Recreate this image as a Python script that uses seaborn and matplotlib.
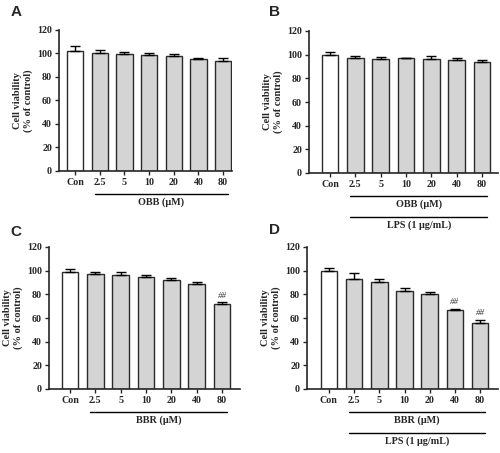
import numpy as np
import pandas as pd
import matplotlib
matplotlib.use("Agg")
import matplotlib.pyplot as plt
import matplotlib.transforms as mtransforms
import seaborn as sns

# данные
groups = ["Con", "2.5", "5", "10", "20", "40", "80"]

a_mean = [102, 100, 99.5, 99, 97.5, 95, 94]
a_sd = [4, 3, 1.5, 1, 2, 1.5, 2]

b_mean = [100, 97, 96.5, 97, 96, 95.5, 93.5]
b_sd = [2.5, 2, 1.5, 0.6, 2.5, 1.5, 2]

c_mean = [99, 97.5, 96.5, 95, 92, 88.5, 71.5]
c_sd = [2, 1.5, 2, 1.5, 1.5, 2, 2]
c_sig = ["", "", "", "", "", "", "##"]

d_mean = [100, 93, 90.5, 83, 80.5, 66.5, 55.5]
d_sd = [2, 5, 2.5, 2, 1.5, 1.5, 3]
d_sig = ["", "", "", "", "", "##", "##"]

sns.set_theme(style="ticks")
plt.rcParams["font.family"] = ["Liberation Serif", "DejaVu Serif"]
plt.rcParams["font.weight"] = "bold"

fig = plt.figure(figsize=(5.0, 4.53), dpi=100)

W, H = 500.0, 453.0


def make_ax(left, right, top, bottom):
    return fig.add_axes([left / W, 1 - bottom / H, (right - left) / W, (bottom - top) / H])


def panel(ax, mean, sd, sig, xlim, drug, lps):
    df = pd.DataFrame({"group": groups, "value": mean})
    colors = ["white"] + ["#d4d4d4"] * 6
    sns.barplot(data=df, x="group", y="value", hue="group", palette=colors,
                order=groups, legend=False, width=0.66, edgecolor="#2b2b2b",
                linewidth=1.0, ax=ax, errorbar=None)
    ax.errorbar(np.arange(len(groups)), mean, yerr=[np.zeros(len(sd)), sd],
                fmt="none", ecolor="black", elinewidth=1.0, capsize=3.5, capthick=1.0)
    for i, s in enumerate(sig):
        if s:
            ax.text(i, mean[i] + sd[i] + 2, s, ha="center", va="bottom",
                    fontsize=6.5, style="italic", fontweight="normal", color="#333333")
    ax.set_ylim(0, 120)
    ax.set_yticks(range(0, 121, 20))
    ax.set_xlim(*xlim)
    ax.set_xlabel("")
    ax.set_ylabel("Cell viability\n(% of control)", fontsize=7.5, fontweight="bold", labelpad=3)
    ax.tick_params(axis="both", labelsize=7.2, width=1.0, length=3, pad=2)
    for lab in ax.get_xticklabels() + ax.get_yticklabels():
        lab.set_fontweight("bold")
    sns.despine(ax=ax)
    for sp in ["left", "bottom"]:
        ax.spines[sp].set_linewidth(1.2)

    trans = mtransforms.blended_transform_factory(ax.transData, ax.transAxes)
    px = 1.0 / ax.get_position().height / H  # один пиксель в долях осей
    y1 = -23 * px
    ax.plot([0.8, 6.2], [y1, y1], color="black", lw=1.0, transform=trans, clip_on=False)
    ax.text(3.5, y1 - 3 * px, drug, ha="center", va="top", fontsize=7.3,
            fontweight="bold", transform=trans)
    if lps:
        y2 = y1 - 21 * px
        ax.plot([0.8, 6.2], [y2, y2], color="black", lw=1.0, transform=trans, clip_on=False)
        ax.text(3.5, y2 - 3 * px, "LPS (1 μg/mL)", ha="center", va="top", fontsize=7.3,
                fontweight="bold", transform=trans)


ax_a = make_ax(59, 232, 30, 171)
panel(ax_a, a_mean, a_sd, [""] * 7, (-0.65, 6.36), "OBB (μM)", False)

ax_b = make_ax(309, 498, 31, 173)
panel(ax_b, b_mean, b_sd, [""] * 7, (-0.83, 6.63), "OBB (μM)", True)

ax_c = make_ax(49, 240, 247, 389)
panel(ax_c, c_mean, c_sd, c_sig, (-0.83, 6.71), "BBR (μM)", False)

ax_d = make_ax(307, 498, 247, 389)
panel(ax_d, d_mean, d_sd, d_sig, (-0.87, 6.71), "BBR (μM)", True)

for lab, x, y in [("A", 16, 12), ("B", 274, 12), ("C", 16, 232), ("D", 275, 230)]:
    fig.text(x / W, 1 - y / H, lab, ha="center", va="center", fontsize=11,
             fontweight="bold", family=["Liberation Sans", "DejaVu Sans"])

fig.savefig("out.png", dpi=100)
